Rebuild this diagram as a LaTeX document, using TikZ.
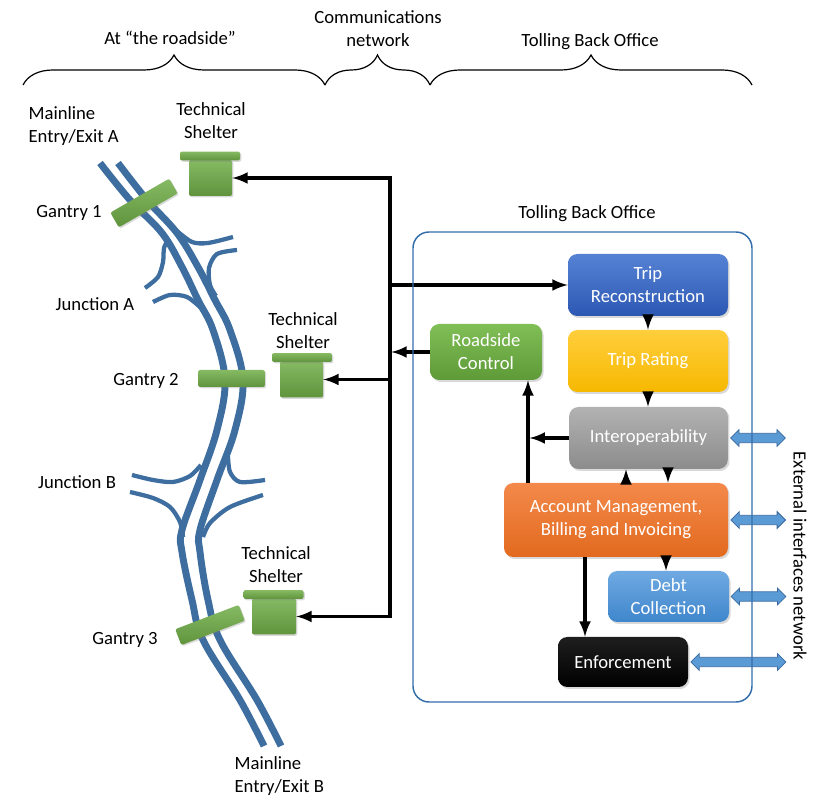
\documentclass[tikz,border=0pt]{standalone}
\usepackage{fontspec}
\setmainfont{Carlito}
\usetikzlibrary{shapes.arrows,shadows,decorations.pathreplacing}

\definecolor{roadblue}{RGB}{62,110,160}
\definecolor{framblue}{RGB}{52,110,170}
\definecolor{extblue}{RGB}{91,155,213}
\definecolor{extedge}{RGB}{55,105,160}
\definecolor{gantry}{RGB}{112,173,71}

\tikzset{
  road/.style={draw=roadblue, line width=5.2pt},
  ramp/.style={draw=roadblue, line width=3.2pt},
  flow/.style={-latex, line width=2.9pt},
  lbl/.style={font=\fontsize{14}{17.25}\selectfont, align=center, inner sep=1pt},
  kit/.style={rounded corners=1.5pt, top color=gantry!85!white, bottom color=gantry!85!black,
    draw=none, drop shadow={shadow xshift=1pt, shadow yshift=-1pt, opacity=0.3}},
  module/.style={rounded corners=7pt, text=white, align=center, inner sep=2pt,
    font=\fontsize{14}{17.25}\selectfont,
    drop shadow={shadow xshift=1.2pt, shadow yshift=-1.5pt, opacity=0.3}},
  extlink/.style={double arrow, fill=extblue, draw=extedge, line width=0.6pt,
    inner xsep=0pt, inner ysep=3.2pt, double arrow head extend=2.8pt, minimum height=41pt, anchor=west},
  bracket/.style={decorate, decoration={brace, amplitude=22.5pt}, line width=0.9pt},
}

\begin{document}
\begin{tikzpicture}[x=0.75pt, y=-0.75pt]
  \useasboundingbox (0,0) rectangle (826,809);

  % headings and braces
  \node[lbl] (hdrroad) at (170,38) {At “the roadside”};
  \node[lbl] (hdrcomms) at (378,29) {Communications\\network};
  \node[lbl] (hdrtbo) at (590,42) {Tolling Back Office};
  \coordinate (b0) at (23,85);
  \coordinate (b1) at (325,85);
  \coordinate (b2) at (430,85);
  \coordinate (b3) at (752,85);
  \draw[bracket] (b0) -- (b1);
  \draw[bracket] (b1) -- (b2);
  \draw[bracket] (b2) -- (b3);

  % the road
  \draw[road] plot[smooth, tension=0.6] coordinates {(100,163) (130,200) (162,233) (182,267) (198,300) (213,330) (225,380) (217,430) (200,480) (182,530) (182,552) (192,600) (203,640) (240,700) (264,746)};
  \draw[road] plot[smooth, tension=0.6] coordinates {(118,163) (147,200) (177,233) (198,267) (215,300) (230,330) (243,380) (235,430) (217,480) (200,530) (200,552) (208,600) (220,640) (257,700) (281,746)};
  % junction A
  \draw[ramp] plot[smooth] coordinates {(177,231) (192,242) (208,243) (233,237)};
  \draw[ramp] plot[smooth] coordinates {(237,250) (217,254) (209,268) (210,285) (216,296)};
  \draw[ramp] plot[smooth] coordinates {(145,288) (158,277) (163,262) (164,248) (168,240)};
  \draw[ramp] plot[smooth] coordinates {(153,302) (170,295) (187,297) (201,308)};
  % junction B
  \draw[ramp] plot[smooth] coordinates {(132,475) (153,480) (173,482) (190,476) (201,465)};
  \draw[ramp] plot[smooth] coordinates {(130,492) (153,498) (170,507) (180,522) (183,537)};
  \draw[ramp] plot[smooth] coordinates {(265,480) (240,482) (230,472) (228,456)};
  \draw[ramp] plot[smooth] coordinates {(263,495) (230,507) (210,523) (203,537)};

  \node[lbl, align=left, anchor=west] (entryA) at (27,126) {Mainline\\Entry/Exit A};
  \node[lbl, align=left, anchor=west] (entryB) at (233,776) {Mainline\\Entry/Exit B};
  \node[lbl] (junctA) at (95,304) {Junction A};
  \node[lbl] (junctB) at (77,482) {Junction B};

  % gantries
  \node[kit, minimum width=51pt, minimum height=12.75pt, rotate=30] (gantry1) at (144,203) {};
  \node[kit, minimum width=50pt, minimum height=12.75pt] (gantry2) at (231.5,378.5) {};
  \node[kit, minimum width=51pt, minimum height=12.75pt, rotate=21] (gantry3) at (210,625) {};
  \node[lbl] (gantrylbl1) at (69,213) {Gantry 1};
  \node[lbl] (gantrylbl2) at (146,381) {Gantry 2};
  \node[lbl] (gantrylbl3) at (125,640) {Gantry 3};

  % technical shelters
  \node[kit, minimum width=32.25pt, minimum height=27pt] (shelter1) at (210.5,178) {};
  \node[kit, minimum width=45pt, minimum height=6.5pt] (roof1) at (210,156) {};
  \node[kit, minimum width=32.25pt, minimum height=27pt] (shelter2) at (301.5,379.5) {};
  \node[kit, minimum width=45pt, minimum height=6.5pt] (roof2) at (302,357.5) {};
  \node[kit, minimum width=33pt, minimum height=27pt] (shelter3) at (274,616.5) {};
  \node[kit, minimum width=45pt, minimum height=6.5pt] (roof3) at (273.5,594.5) {};
  \node[lbl] (shelterlbl1) at (211,121) {Technical\\Shelter};
  \node[lbl] (shelterlbl2) at (303,331) {Technical\\Shelter};
  \node[lbl] (shelterlbl3) at (276,565) {Technical\\Shelter};

  % back office modules
  \node[module, minimum width=120pt, minimum height=46.5pt, top color={rgb,255:red,86;green,130;blue,212}, bottom color={rgb,255:red,44;green,88;blue,180}] (triprec) at (648,285) {Trip\\Reconstruction};
  \node[module, minimum width=120pt, minimum height=46.5pt, top color={rgb,255:red,255;green,206;blue,60}, bottom color={rgb,255:red,246;green,184;blue,0}] (triprate) at (648,361) {Trip Rating};
  \node[module, minimum width=119pt, minimum height=46.5pt, top color={rgb,255:red,178;green,178;blue,178}, bottom color={rgb,255:red,140;green,140;blue,140}] (interop) at (648.5,438) {Interoperability};
  \node[module, minimum width=168pt, minimum height=55.5pt, top color={rgb,255:red,243;green,137;blue,75}, bottom color={rgb,255:red,226;green,106;blue,30}] (account) at (616,520) {Account Management,\\Billing and Invoicing};
  \node[module, minimum width=90.75pt, minimum height=38.25pt, top color={rgb,255:red,112;green,170;blue,226}, bottom color={rgb,255:red,62;green,134;blue,204}] (debt) at (668.5,596.5) {Debt\\Collection};
  \node[module, minimum width=97.5pt, minimum height=37.5pt, top color={rgb,255:red,30;green,30;blue,30}, bottom color=black] (enforce) at (623,662) {Enforcement};
  \node[module, minimum width=84pt, minimum height=42pt, top color={rgb,255:red,128;green,190;blue,86}, bottom color={rgb,255:red,94;green,155;blue,56}] (roadside) at (486,352) {Roadside\\Control};

  % communications network
  \coordinate (trunk) at (390,616.5);
  \draw[flow] (trunk) |- (shelter1.east);
  \draw[flow] (trunk |- shelter1.east) |- (shelter3.east);
  \draw[flow] (trunk |- shelter2) -- (shelter2.east);
  \draw[flow] (trunk |- triprec) -- (triprec.west);
  \draw[flow, shorten >=-0.2pt] (roadside.west) -- ([xshift=1.2pt]trunk |- roadside);

  % flows between modules
  \coordinate (riser) at (528,483);
  \draw[flow] (triprec.south) -- (triprate.north);
  \draw[flow] (triprate.south) -- (triprate.south |- interop.north);
  \draw[flow] (interop.west) -- ([xshift=1.2pt]riser |- interop.west);
  \draw[flow] (riser) -- (riser |- roadside.south);
  \draw[flow] ([xshift=7.5pt]account.north) -- ([xshift=7.5pt]account.north |- interop.south);
  \draw[flow] ([xshift=39pt]account.north |- interop.south) -- ([xshift=39pt]account.north);
  \draw[flow] ([xshift=37.5pt]account.south) -- ([xshift=37.5pt]account.south |- debt.north);
  \draw[flow] ([xshift=-23.25pt]account.south) -- ([xshift=-23.25pt]account.south |- enforce.north);

  % external interfaces
  \node[extlink] (ext1) at ([xshift=1.5pt]interop.east) {};
  \node[extlink] (ext2) at ([xshift=1.5pt]account.east) {};
  \node[extlink] (ext3) at ([xshift=1pt]debt.east) {};
  \node[extlink, minimum height=71.25pt] (ext4) at ([xshift=1.5pt]enforce.east) {};
  \node[lbl, rotate=-90] (extnet) at (800,556) {External interfaces network};

  % back office frame
  \node[draw=framblue, line width=1.1pt, rounded corners=12pt, minimum width=254.25pt, minimum height=352.5pt] (tbo) at (582.5,467) {};
  \node[lbl] (tbolbl) at (587,214) {Tolling Back Office};
\end{tikzpicture}
\end{document}
